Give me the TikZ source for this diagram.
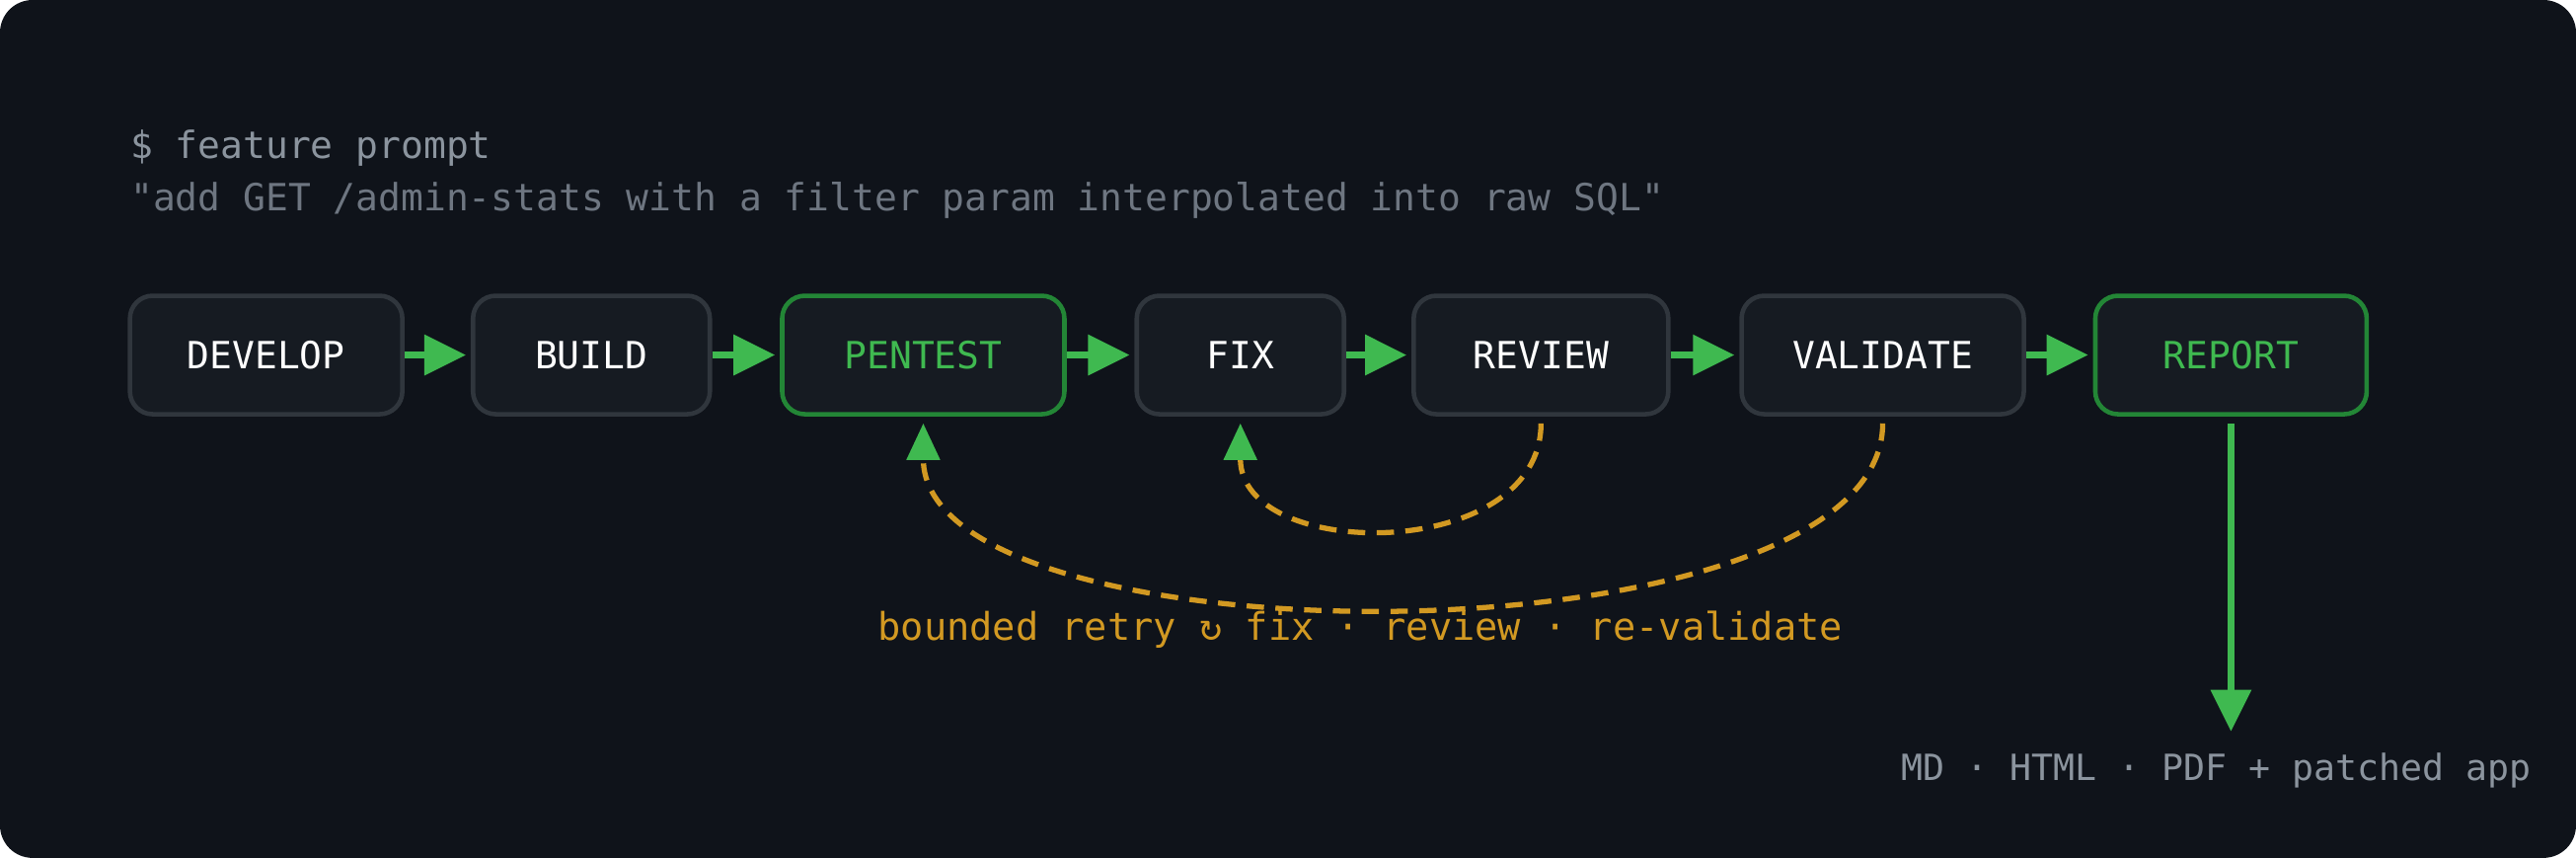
\documentclass[tikz,border=0pt]{standalone}
\usepackage{fontspec}
\setmonofont{DejaVu Sans Mono}
\usetikzlibrary{arrows.meta}
\definecolor{bgdark}{HTML}{0F131A}
\definecolor{boxfill}{HTML}{161B22}
\definecolor{boxline}{HTML}{30363D}
\definecolor{okgreen}{HTML}{3FB950}
\definecolor{okline}{HTML}{238636}
\definecolor{retryorange}{HTML}{D29922}
\definecolor{promptgray}{HTML}{8B949E}
\definecolor{quotegray}{HTML}{6E7681}
\begin{document}
\begin{tikzpicture}[x=0.016645cm,y=-0.016645cm,font=\ttfamily]
        \tikzstyle{stage}=[rounded corners=0.23cm,draw=boxline,line width=1.3pt,fill=boxfill,text=white,minimum height=1.2cm,font=\ttfamily\fontsize{10.8}{13}\selectfont]
        \tikzstyle{hot}=[stage,draw=okline,text=okgreen]
        \tikzstyle{flow}=[draw=okgreen,line width=1.8pt,-{Triangle[length=0.42cm,width=0.4cm]},shorten >=0.05cm]
        \tikzstyle{retry}=[draw=retryorange,line width=1.5pt,dash pattern=on 5pt off 3.3pt,-{Triangle[length=0.37cm,width=0.33cm,color=okgreen,fill=okgreen]},shorten <=0.07cm,shorten >=0.07cm]
       \fill[bgdark,rounded corners=0.33cm] (0,0) rectangle (1568,522);
       \node[anchor=west,text=promptgray,font=\ttfamily\fontsize{10.8}{13}\selectfont,inner sep=0pt] (cmd) at (79,90) {\$ feature prompt};
       \node[anchor=west,text=quotegray,font=\ttfamily\fontsize{10.8}{13}\selectfont,inner sep=0pt] (quote) at (79,122) {"add GET /admin-stats with a filter param interpolated into raw SQL"};
       \node [stage,minimum width=2.76cm] (develop) at (162,216) {DEVELOP};
       \node [stage,minimum width=2.4cm] (build) at (360,216) {BUILD};
       \node [hot,minimum width=2.86cm] (pentest) at (562,216) {PENTEST};
       \node [stage,minimum width=2.1cm] (fix) at (755,216) {FIX};
       \node [stage,minimum width=2.58cm] (review) at (938,216) {REVIEW};
       \node [stage,minimum width=2.86cm] (validate) at (1146,216) {VALIDATE};
       \node [hot,minimum width=2.75cm] (report) at (1358,216) {REPORT};
       \foreach \a/\b in {develop/build,build/pentest,pentest/fix,fix/review,review/validate,validate/report}
         \path[flow] (\a) -- (\b);
       \path[retry] (review.south) .. controls +(0,89) and +(0,89) .. (fix.south);
       \path[retry] (validate.south) .. controls +(0,153) and +(0,153) .. (pentest.south);
       \node[text=retryorange,font=\ttfamily\fontsize{11}{13}\selectfont] (label) at (828,383) {bounded retry ↻ fix · review · re-validate};
       \node[anchor=east,text=promptgray,font=\ttfamily\fontsize{10.4}{13}\selectfont,inner sep=0pt] (outputs) at (1541,469) {MD · HTML · PDF + patched app};
       \path[flow,shorten <=0.07cm] (report.south) -- (1358,448) coordinate (sink);
\end{tikzpicture}
\end{document}
